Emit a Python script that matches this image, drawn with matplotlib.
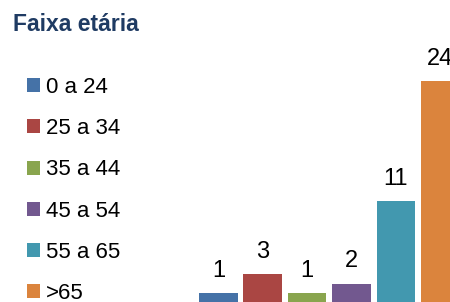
import matplotlib
matplotlib.use('Agg')
from matplotlib import pyplot as plt
from matplotlib.patches import Patch

plt.rcParams['font.family'] = ['Liberation Sans', 'DejaVu Sans']

categories = ['0 a 24', '25 a 34', '35 a 44', '45 a 54', '55 a 65', '>65']
values = [1, 3, 1, 2, 11, 24]
colors = ['#4572A7', '#AA4643', '#89A54E', '#72588F', '#4298AF', '#DB843D']
title = 'Faixa etária'

fig = plt.figure(figsize=(4.5, 3.02), dpi=100)
ax = fig.add_axes([0, 0, 1, 1])

x = list(range(len(values)))
bars = ax.bar(x, values, width=0.87, color=colors)
for b, v in zip(bars, values):
    ax.annotate(str(v), (b.get_x() + b.get_width() / 2, v),
                xytext=(0, 8), textcoords='offset points',
                ha='center', va='bottom', fontsize=17)

ax.set_xlim(-4.92, 5.22)
ax.set_ylim(0, 32.8)
ax.axis('off')

fig.text(0.029, 0.918, title, fontsize=16.5, fontweight='bold',
         color='#1F3B63', ha='left', va='center')

handles = [Patch(facecolor=c, edgecolor='none') for c in colors]
fig.legend(handles, categories, loc='upper left', bbox_to_anchor=(0.06, 0.745),
           frameon=False, fontsize=16, handlelength=0.585, handleheight=0.585,
           handletextpad=0.25, labelspacing=0.91, borderpad=0, borderaxespad=0)

fig.savefig('out.png', dpi=100)
